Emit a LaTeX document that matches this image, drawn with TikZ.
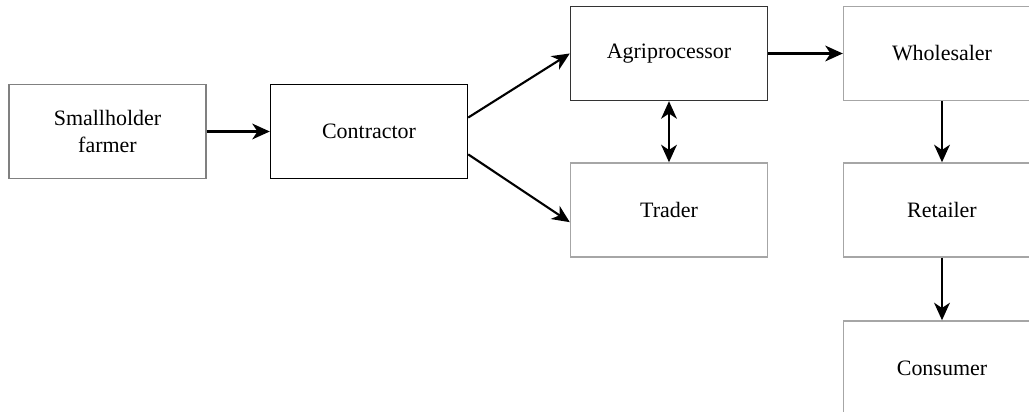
\documentclass[tikz,border=0pt]{standalone}
\usepackage{fontspec}
\setmainfont{Liberation Serif}
\usetikzlibrary{arrows.meta}

\tikzset{
    stage/.style={draw=black, line width=0.8pt, minimum width=3.94cm, minimum height=1.88cm,
        align=center, font=\fontsize{12.5}{15}\selectfont, inner sep=0pt},
    palestage/.style={stage, draw=gray!70},
    flow/.style={-{Stealth[length=10pt,width=9pt,inset=3pt]}, line width=1.2pt}
}

\begin{document}
\begin{tikzpicture}
        \useasboundingbox (0,0) rectangle (20.58,-8.24);
        \clip (0,0) rectangle (20.58,-8.24);

        % Left part
        \node[palestage, draw=gray] (farmer) at (2.15,-2.63) {Smallholder\\farmer};
        \node[stage] (contractor) at (7.38,-2.63) {Contractor};

        % Middle column
        \node[stage, draw=black!80] (agri) at (13.38,-1.07) {Agriprocessor};
        \node[palestage] (trader) at (13.38,-4.2) {Trader};

        % Right column
        \node[palestage] (wholesaler) at (18.84,-1.07) {Wholesaler};
        \node[palestage] (retailer) at (18.84,-4.2) {Retailer};
        \node[palestage] (consumer) at (18.84,-7.36) {Consumer};

        % Arrows
        \draw[flow] (farmer) -- (contractor);
        \draw[flow] (contractor.8) -- (agri.west);
        \draw[flow] (contractor.-13) -- (trader.187);
        \draw[flow, {Stealth[length=10pt,width=9pt,inset=3pt]}-{Stealth[length=10pt,width=9pt,inset=3pt]}] (agri) -- (trader);
        \draw[flow] (agri) -- (wholesaler);
        \draw[flow] (wholesaler) -- (retailer);
        \draw[flow] (retailer) -- (consumer);
    \end{tikzpicture}
\end{document}
